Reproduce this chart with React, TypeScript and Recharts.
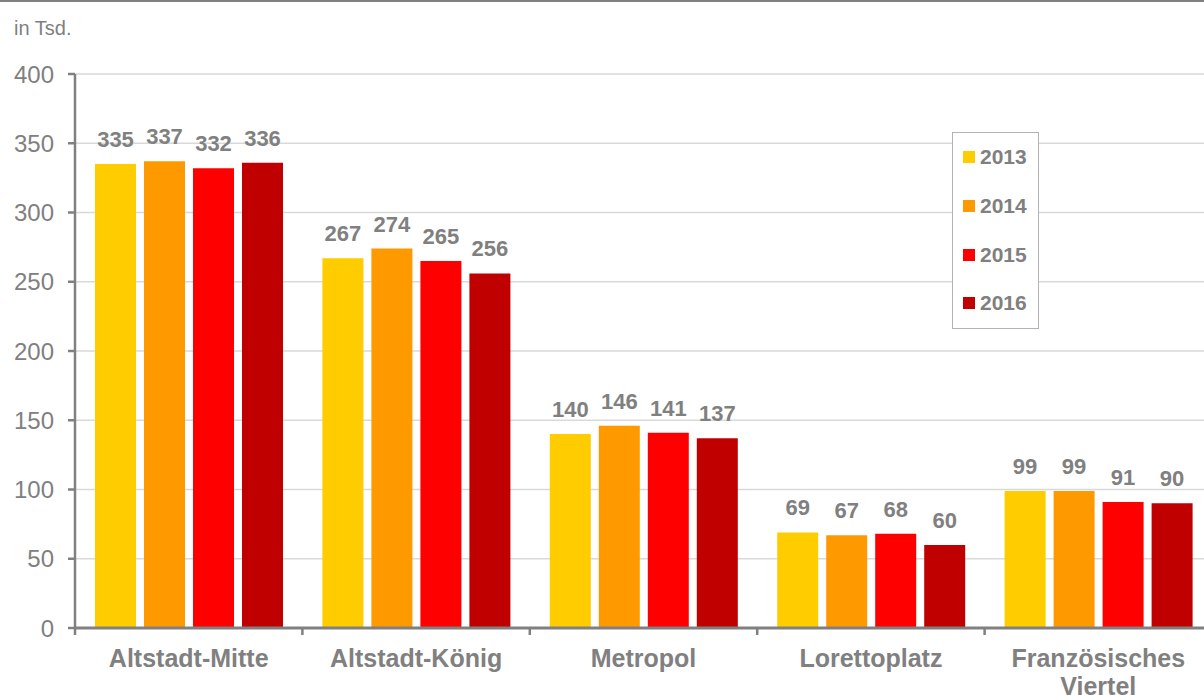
// Besucherzahlen je Standort 2013–2016 (in Tsd.) — grouped bar chart with
// value labels and a boxed year legend on the right.
import {
  BarChart,
  Bar,
  XAxis,
  YAxis,
  CartesianGrid,
  LabelList,
  Legend,
} from 'recharts';

const CATEGORIES = [
  'Altstadt-Mitte',
  'Altstadt-König',
  'Metropol',
  'Lorettoplatz',
  'Französisches Viertel',
];
const YEARS = ['2013', '2014', '2015', '2016'];
const COLORS = ['#FFCC00', '#FF9900', '#FF0000', '#C00000'];

const VALUES_2013 = [335, 267, 140, 69, 99];
const VALUES_2014 = [337, 274, 146, 67, 99];
const VALUES_2015 = [332, 265, 141, 68, 91];
const VALUES_2016 = [336, 256, 137, 60, 90];

const Y_TICKS = [0, 50, 100, 150, 200, 250, 300, 350, 400];

const SERIES = [VALUES_2013, VALUES_2014, VALUES_2015, VALUES_2016];

const data = CATEGORIES.map((name, i) => {
  const row: Record<string, string | number> = { name };
  YEARS.forEach((y, s) => {
    row[y] = SERIES[s][i];
  });
  return row;
});

const GRAY = '#808080';
const FONT = '"Liberation Sans", Arial, sans-serif';

const CHART_W = 1214;
const CHART_H = 695;
const Y_AXIS_W = 75;
const PLOT_W = CHART_W - Y_AXIS_W - 2;
const HALF_BAND = PLOT_W / CATEGORIES.length / 2;

function CategoryTick(props: any) {
  const { x, y, payload } = props;
  const words: string[] = String(payload.value).split(' ');
  const lines = words.length > 1 && payload.value.length > 16 ? words : [payload.value];
  return (
    <g>
      <line x1={x - HALF_BAND} x2={x - HALF_BAND} y1={y} y2={y + 7} stroke={GRAY} strokeWidth={2.5} />
      <text
        x={x}
        y={y + 39}
        textAnchor="middle"
        fill={GRAY}
        fontSize={25}
        fontWeight="bold"
        fontFamily={FONT}
      >
        {lines.map((l, i) => (
          <tspan key={i} x={x} dy={i === 0 ? 0 : 28}>
            {l}
          </tspan>
        ))}
      </text>
    </g>
  );
}

function YearLegend(props: any) {
  const { payload } = props;
  return (
    <div
      style={{
        width: 87,
        height: 197,
        boxSizing: 'border-box',
        border: '1px solid #b3b3b3',
        background: '#fff',
        paddingTop: 0,
      }}
    >
      {(payload || []).map((p: any) => (
        <div
          key={p.value}
          style={{ height: 48.7, display: 'flex', alignItems: 'center', paddingLeft: 10 }}
        >
          <span style={{ width: 12, height: 12, background: p.color, marginRight: 5 }} />
          <span style={{ color: GRAY, fontSize: 21, fontWeight: 'bold', fontFamily: FONT }}>
            {p.value}
          </span>
        </div>
      ))}
    </div>
  );
}

export default function App() {
  return (
    <div
      style={{
        position: 'fixed',
        left: 0,
        top: 0,
        width: 1204,
        height: 695,
        overflow: 'hidden',
        background: '#fff',
        fontFamily: FONT,
      }}
    >
      <div
        style={{
          position: 'absolute',
          left: 14,
          top: 17,
          fontSize: 20,
          color: '#7f7f7f',
          fontFamily: FONT,
          lineHeight: '23px',
        }}
      >
        in Tsd.
      </div>
      <BarChart
        width={CHART_W}
        height={CHART_H}
        data={data}
        margin={{ top: 74, right: 2, bottom: 0, left: 0 }}
        barCategoryGap={20}
        barGap={8}
        style={{ position: 'absolute', left: 0, top: 0 }}
      >
        <CartesianGrid vertical={false} stroke="#d9d9d9" strokeWidth={1.5} />
        <XAxis
          dataKey="name"
          height={67}
          axisLine={{ stroke: GRAY, strokeWidth: 3 }}
          tickLine={false}
          tickSize={0}
          tickMargin={0}
          interval={0}
          tick={<CategoryTick />}
        />
        <YAxis
          width={Y_AXIS_W}
          domain={[0, 400]}
          ticks={Y_TICKS}
          interval={0}
          axisLine={{ stroke: GRAY, strokeWidth: 2.5 }}
          tickLine={{ stroke: GRAY, strokeWidth: 2.5 }}
          tickSize={7}
          tickMargin={14}
          tick={{ fill: GRAY, fontSize: 24, fontFamily: FONT }}
        />
        <Legend
          layout="vertical"
          align="center"
          verticalAlign="middle"
          content={<YearLegend />}
          wrapperStyle={{ left: 952, top: 132, width: 87, height: 197 }}
        />
        {YEARS.map((y, s) => (
          <Bar key={y} dataKey={y} name={y} fill={COLORS[s]} isAnimationActive={false}>
            <LabelList
              dataKey={y}
              position="top"
              offset={17}
              fill={GRAY}
              fontSize={22}
              fontWeight="bold"
              fontFamily={FONT}
            />
          </Bar>
        ))}
      </BarChart>
      <div
        style={{ position: 'absolute', left: 0, top: 0, width: 1204, height: 2, background: GRAY }}
      />
    </div>
  );
}
